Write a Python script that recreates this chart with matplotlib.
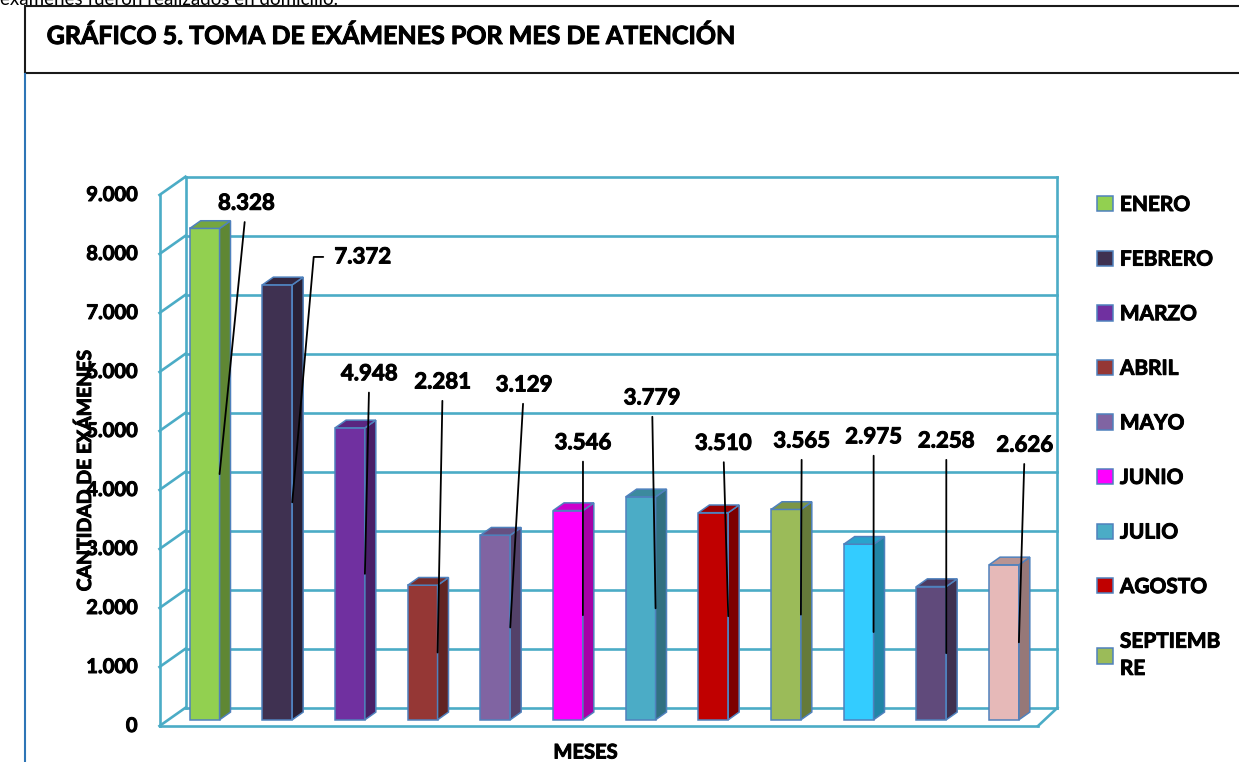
import matplotlib
matplotlib.use("Agg")
import matplotlib.pyplot as plt
import matplotlib.patheffects as pe
from matplotlib.patches import Polygon, Rectangle
from matplotlib.lines import Line2D
from matplotlib.transforms import ScaledTranslation
from matplotlib.colors import to_rgb

#%% data
meses = ["ENERO", "FEBRERO", "MARZO", "ABRIL", "MAYO", "JUNIO", "JULIO",
         "AGOSTO", "SEPTIEMBRE", "OCTUBRE", "NOVIEMBRE", "DICIEMBRE"]
examenes = [8328, 7372, 4948, 2281, 3129, 3546, 3779, 3510, 3565, 2975, 2258, 2626]
colores = ["#92D050", "#3F3151", "#7030A0", "#953735", "#8064A2", "#FF00FF",
           "#4BACC6", "#C00000", "#9BBB59", "#33CCFF", "#604A7B", "#E6B9B8"]
# legend in the original is cut after septiembre
leyenda = ["ENERO", "FEBRERO", "MARZO", "ABRIL", "MAYO", "JUNIO", "JULIO",
           "AGOSTO", "SEPTIEMB\nRE"]
yticks = list(range(0, 9001, 1000))

# data labels were dragged by hand in the original, (x, y) in data units
etiquetas_xy = [(0.34, 8550), (1.94, 7640), (2.03, 5660), (3.04, 5520), (4.16, 5470),
                (4.97, 4490), (5.92, 5250), (6.90, 4480), (7.98, 4520), (8.97, 4590),
                (9.97, 4520), (11.05, 4450)]

#%% helpers
W, H = 1239, 762
DPI = 100

def fx(px):
    return px / W

def fy(px):
    return 1 - px / H

def darker(c, f):
    r, g, b = to_rgb(c)
    return (r * f, g * f, b * f)

plt.rcParams['font.family'] = ['Lato', 'DejaVu Sans']
# calibri bold is heavier than lato bold, thicken a bit
heavy = [pe.withStroke(linewidth=0.7, foreground='black')]

#%% figure
fig = plt.figure(figsize=(W / DPI, H / DPI), dpi=DPI)
fig.patch.set_facecolor('white')

# back wall of the fake 3d box
ax = fig.add_axes([fx(185.5), fy(707.7), 872 / W, 531 / H])
ax.set_xlim(-0.5, 11.5)
ax.set_ylim(0, 9000)
ax.axis('off')

px_x = 12 / 872
px_y = 9000 / 531
Dx, Dy = -26 * px_x, -18.3 * px_y   # depth vector back -> front
grid_c = '#4BACC6'
glw = 1.9

for v in yticks:
    ax.plot([-0.5, 11.5], [v, v], color=grid_c, lw=glw, clip_on=False, zorder=1)
    ax.plot([-0.5, -0.5 + Dx], [v, v + Dy], color=grid_c, lw=glw, clip_on=False, zorder=1)
ax.plot([-0.5, -0.5], [0, 9000], color=grid_c, lw=glw, clip_on=False, zorder=1)
ax.plot([11.5, 11.5], [0, 9000], color=grid_c, lw=glw, clip_on=False, zorder=1)
ax.plot([-0.5 + Dx, -0.5 + Dx], [Dy, 9000 + Dy], color=grid_c, lw=glw, clip_on=False, zorder=1)
ax.plot([-0.5 + Dx, 11.5 + Dx * 0.75], [Dy, Dy], color=grid_c, lw=glw, clip_on=False, zorder=1)
ax.plot([11.5, 11.5 + Dx * 0.75], [0, Dy], color=grid_c, lw=glw, clip_on=False, zorder=1)

#%% bars
f_front = 0.66
front = ax.transData + ScaledTranslation(f_front * -26 / DPI, f_front * -18.3 / DPI,
                                         fig.dpi_scale_trans)
w = 0.41
edge = '#4F81BD'
x = list(range(len(examenes)))
bars = ax.bar(x, examenes, width=w, color=colores, edgecolor=edge, linewidth=1.1,
              transform=front, clip_on=False, zorder=3)

bdx, bdy = 0.42 * 26 * px_x, 0.42 * 18.3 * px_y
for i, v in enumerate(examenes):
    xl, xr = i - w / 2, i + w / 2
    side = Polygon([(xr, 0), (xr, v), (xr + bdx, v + bdy), (xr + bdx, bdy)],
                   closed=True, facecolor=darker(colores[i], 0.65), edgecolor=edge,
                   lw=1.1, transform=front, clip_on=False, zorder=3)
    top = Polygon([(xl, v), (xr, v), (xr + bdx, v + bdy), (xl + bdx, v + bdy)],
                  closed=True, facecolor=darker(colores[i], 0.8), edgecolor=edge,
                  lw=1.1, transform=front, clip_on=False, zorder=3)
    ax.add_patch(side)
    ax.add_patch(top)

#%% data labels with leader lines
for i, v in enumerate(examenes):
    txt = f"{v:,}".replace(",", ".")
    arrow = dict(arrowstyle='-', color='black', lw=1.3, shrinkA=4, shrinkB=0)
    if i == 1:
        arrow.update(relpos=(0, 0.5), connectionstyle="angle,angleA=0,angleB=85,rad=0",
                     shrinkA=6)
    ax.annotate(txt, xy=(i + w / 2, v / 2), xycoords=front,
                xytext=etiquetas_xy[i], textcoords='data',
                ha='center', va='center', fontsize=16, fontweight='bold',
                arrowprops=arrow, zorder=6, annotation_clip=False, path_effects=heavy)

#%% y tick labels sit on the front plane
tick_tr = ax.get_yaxis_transform() + ScaledTranslation(-48 / DPI, -18.3 / DPI,
                                                        fig.dpi_scale_trans)
for v in yticks:
    ax.text(0, v, f"{v:,}".replace(",", "."), transform=tick_tr, ha='right',
            va='center', fontsize=14.5, fontweight='bold', clip_on=False,
            path_effects=heavy)

fig.text(fx(85), fy(470), "CANTIDAD DE EXÁMENES", rotation=90, ha='center',
         va='center', fontsize=14, fontweight='bold', path_effects=heavy)
fig.text(fx(585.5), fy(752.5), "MESES", ha='center', va='center', fontsize=14.5,
         fontweight='bold', path_effects=heavy)

#%% legend
leg = fig.legend(handles=list(bars)[:9], labels=leyenda, loc='upper left',
                 bbox_to_anchor=(fx(1097), fy(195)), frameon=False,
                 prop={'weight': 'bold', 'size': 15}, handlelength=0.75,
                 handleheight=0.75, handletextpad=0.35, labelspacing=1.66,
                 borderpad=0, borderaxespad=0)
for t in leg.get_texts():
    t.set_path_effects(heavy)
leg.get_texts()[-1].set_linespacing(1.45)

#%% title box and page bits
fig.add_artist(Rectangle((fx(25), fy(73)), (1300 - 25) / W, (73 - 6) / H,
                         transform=fig.transFigure, fill=False, edgecolor='#1a1a1a',
                         lw=1.5, clip_on=False))
fig.add_artist(Line2D([fx(25), fx(25)], [0, fy(74)], color='#2E75B6', lw=1.5))
fig.text(fx(46.7), fy(44), "GRÁFICO 5. TOMA DE EXÁMENES POR MES DE ATENCIÓN",
         ha='left', va='baseline', fontsize=18, fontweight='bold', path_effects=heavy)
fig.text(fx(0), fy(5), "exámenes fueron realizados en domicilio.", ha='left',
         va='baseline', fontsize=13.5)

fig.savefig("out.png", dpi=DPI)
